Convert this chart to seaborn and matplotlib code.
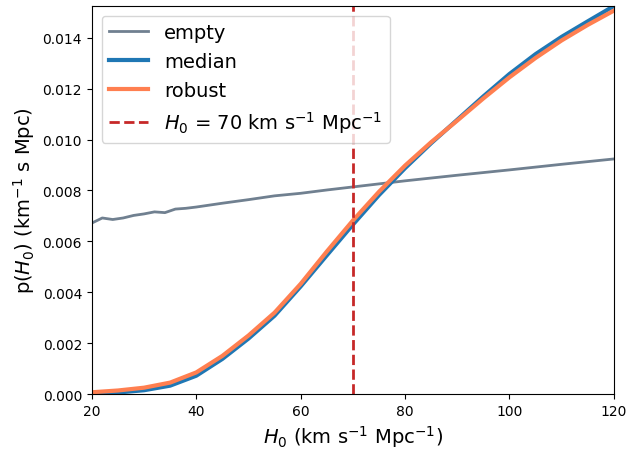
import matplotlib
matplotlib.use("Agg")
import matplotlib.pyplot as plt
import matplotlib.ticker as mticker
import seaborn as sns
import numpy as np

plt.rcParams['font.family'] = ['DejaVu Sans']
plt.rcParams['mathtext.fontset'] = 'dejavusans'

# Data
h0_empty = [20, 22, 24, 26, 28, 30, 32, 34, 36, 38, 40, 45, 50, 55, 60, 65, 70, 75, 80, 90, 100, 110, 120]
p_empty = [0.00672, 0.00692, 0.00686, 0.00692, 0.00702, 0.00708, 0.00716, 0.00713, 0.00727, 0.00730,
           0.00735, 0.00750, 0.00764, 0.00779, 0.00789, 0.00802, 0.00814, 0.00826, 0.00838, 0.00860,
           0.00881, 0.00903, 0.00924]

h0_grid = [20, 25, 30, 35, 40, 45, 50, 55, 60, 65, 70, 75, 80, 85, 90, 95, 100, 105, 110, 115, 120]
p_median = [0.00002, 0.00006, 0.00015, 0.00033, 0.00072, 0.00138, 0.00218, 0.00308, 0.00423, 0.00545,
            0.00666, 0.00782, 0.00888, 0.00986, 0.01078, 0.01170, 0.01258, 0.01336, 0.01404, 0.01465,
            0.01525]
p_robust = [0.00007, 0.00014, 0.00025, 0.00045, 0.00085, 0.00150, 0.00230, 0.00320, 0.00433, 0.00560,
            0.00682, 0.00795, 0.00898, 0.00990, 0.01075, 0.01162, 0.01245, 0.01321, 0.01390, 0.01451,
            0.01507]
h0_ref = 70

fig = plt.figure(figsize=(6.29, 4.52), dpi=100)
ax = fig.add_axes([0.146, 0.126, 0.83, 0.859])

sns.lineplot(x=h0_empty, y=p_empty, ax=ax, color='slategray', lw=2, label='empty')
sns.lineplot(x=h0_grid, y=p_median, ax=ax, color='#1f77b4', lw=3, label='median')
sns.lineplot(x=h0_grid, y=p_robust, ax=ax, color='coral', lw=3, label='robust')
ax.axvline(h0_ref, color='#c62828', lw=2, ls='--',
           label=r'$H_0$ = 70 km s$^{-1}$ Mpc$^{-1}$')

ax.set_xlim(20, 120)
ax.set_ylim(0, 0.01526)
ax.set_xticks([20, 40, 60, 80, 100, 120])
ax.set_yticks(np.arange(0, 0.0141, 0.002))
ax.yaxis.set_major_formatter(mticker.FormatStrFormatter('%.3f'))
ax.tick_params(labelsize=10)
ax.set_xlabel(r'$H_0$ (km s$^{-1}$ Mpc$^{-1}$)', fontsize=14)
ax.set_ylabel(r'p($H_0$) (km$^{-1}$ s Mpc)', fontsize=14)
ax.legend(loc='upper left', fontsize=14, frameon=True)

fig.savefig('out.png', dpi=100)
